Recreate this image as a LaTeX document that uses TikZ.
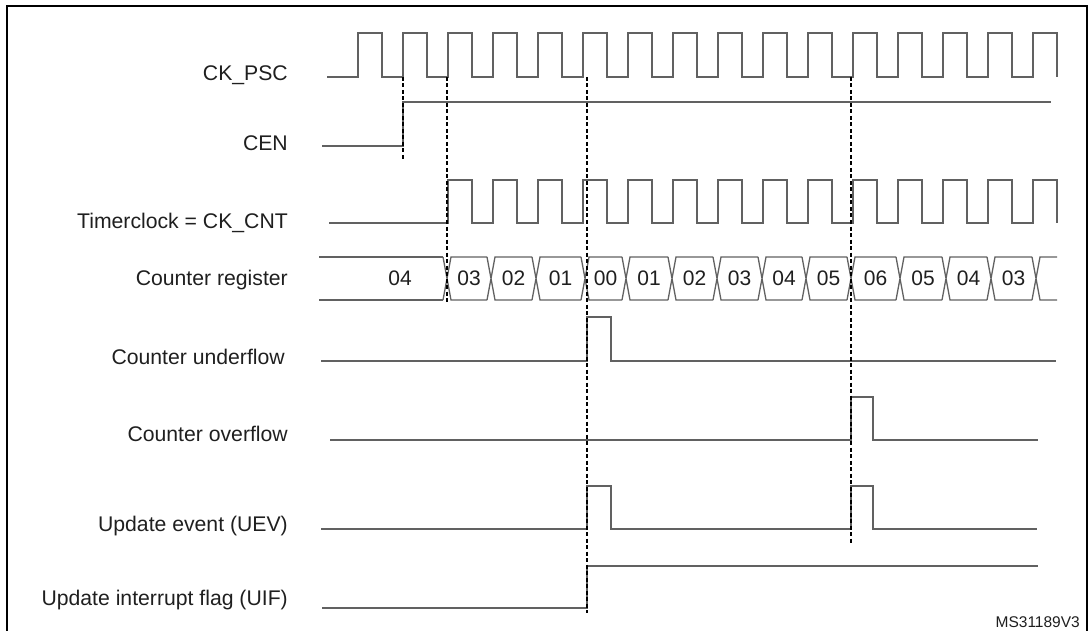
\documentclass[tikz,border=0pt]{standalone}
\usepackage{fontspec}
\setmainfont{Liberation Sans}
\usetikzlibrary{positioning}

\tikzset{
  signal/.style={draw=black!62,line width=1.3pt,line join=miter},
  marker/.style={draw=black,dash pattern=on 4pt off 2.5pt,line width=1.1pt},
  sig label/.style={anchor=base east,inner sep=0pt,text=black!88,
    font=\fontsize{21.2}{23}\selectfont},
  cnt value/.style={anchor=base,inner sep=0pt,text=black!88,
    font=\fontsize{21}{23}\selectfont}
}

\begin{document}
\begin{tikzpicture}[x=1pt,y=-1pt]
  \useasboundingbox (0,0) rectangle (1089,631);
  % frame
  \draw[line width=2.6pt] (7,632) -- (7,6) -- (1087,6) -- (1087,632);

  % signal names
  \node[sig label] (ckpsc) at (288,80.5) {CK\_PSC};
  \node[sig label] (cen) at (288,150.5) {CEN};
  \node[sig label] (ckcnt) at (288,228) {Timerclock = CK\_CNT};
  \node[sig label] (cntreg) at (288,285) {Counter register};
  \node[sig label] (udf) at (285,364) {Counter underflow};
  \node[sig label] (ovf) at (288,441) {Counter overflow};
  \node[sig label] (uev) at (288,531) {Update event (UEV)};
  \node[sig label] (uif) at (288,605) {Update interrupt flag (UIF)};

  % CK_PSC
  \draw[signal] (327,77)
    \foreach \k in {0,...,15} { -- ({358+45*\k},77) -- ({358+45*\k},33)
      -- ({382+45*\k},33) -- ({382+45*\k},77) };
  % CEN
  \draw[signal] (322,146) -- (403,146) -- (403,102) -- (1051,102);
  % CK_CNT
  \draw[signal] (329,223)
    \foreach \k in {2,...,15} { -- ({358+45*\k},223) -- ({358+45*\k},180)
      -- ({382+45*\k},180) -- ({382+45*\k},223) };

  % counter register
  \draw[signal] (319,257) -- (443,257) (319,300) -- (443,300);
  \node[cnt value] (val0) at (400,285) {04};
  \foreach \b/\e/\v [count=\i] in {447/491/03,491/536/02,536/585/01,
      585/626/00,626/672/01,672/717/02,717/762/03,762/806/04,806/851/05,
      851/900/06,900/946/05,946/991/04,991/1036/03} {
    \draw[signal] (\b-4,257) -- (\b+4,300) -- (\e-4,300)
      (\b-4,300) -- (\b+4,257) -- (\e-4,257);
    \node[cnt value] (val\i) at ({(\b+\e)/2},285) {\v};
  }
  \draw[signal] (1032,257) -- (1040,300) -- (1057,300)
    (1032,300) -- (1040,257) -- (1057,257);

  % underflow, overflow, update event, interrupt flag
  \draw[signal] (321,361) -- (587,361) -- (587,317) -- (611,317)
    -- (611,361) -- (1056,361);
  \draw[signal] (330,440) -- (851,440) -- (851,397) -- (873,397)
    -- (873,440) -- (1038,440);
  \draw[signal] (321,529) -- (587,529) -- (587,486) -- (611,486)
    -- (611,529) -- (851,529) -- (851,486) -- (873,486) -- (873,529)
    -- (1037,529);
  \draw[signal] (322,608) -- (587,608) -- (587,566) -- (1038,566);

  % dashed markers
  \draw[marker] (403,77) -- (403,160);
  \draw[marker] (447,77) -- (447,304);
  \draw[marker] (587,77) -- (587,613);
  \draw[marker] (851,77) -- (851,543);

  \node[anchor=base east,inner sep=0pt,text=black!88,
    font=\fontsize{15.5}{17}\selectfont] (ref) at (1080,627.5) {MS31189V3};
\end{tikzpicture}
\end{document}
